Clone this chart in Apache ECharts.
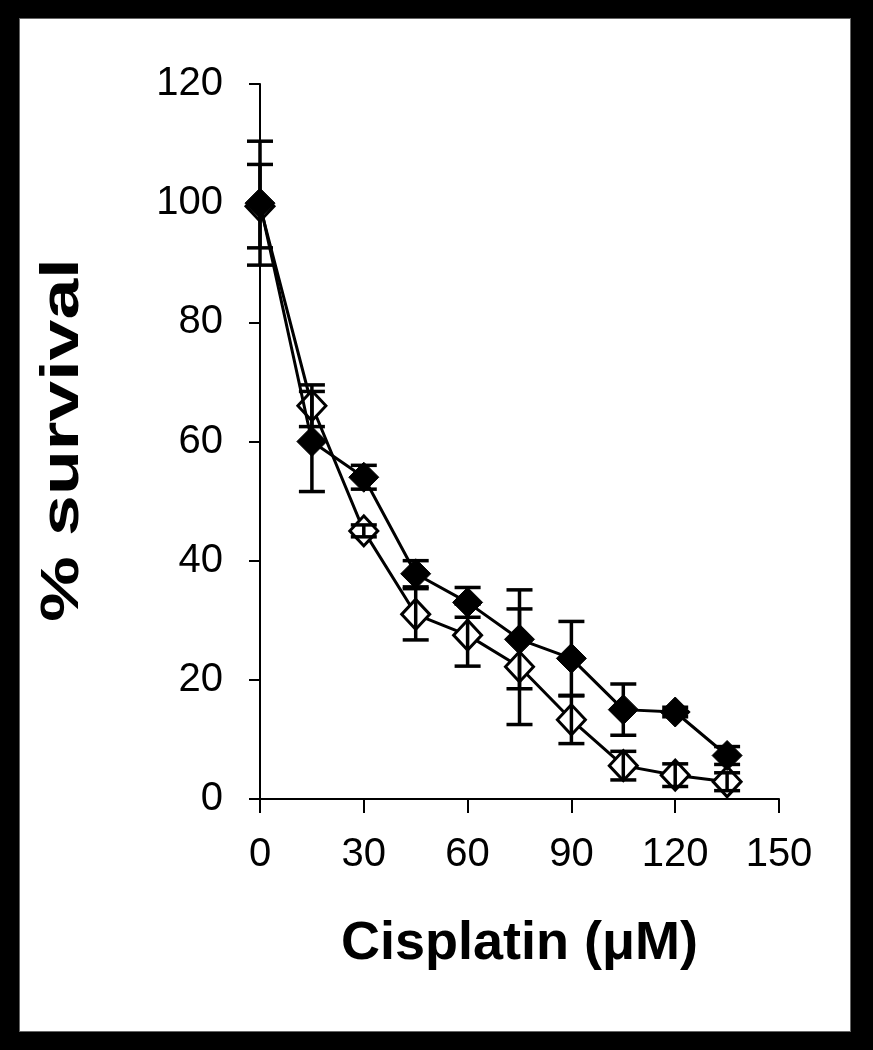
<!DOCTYPE html>
<html>
<head>
<meta charset="utf-8">
<script src="https://cdn.jsdelivr.net/npm/echarts@6/dist/echarts.min.js"></script>
<style>
html,body{margin:0;padding:0;background:#000;}
#paper{position:absolute;left:19px;top:18px;width:830px;height:1012px;background:#fff;border:1px solid #666;}
#main{position:absolute;left:0;top:0;width:873px;height:1050px;}
</style>
</head>
<body>
<div id="paper"></div>
<div id="main"></div>
<script>
// cisplatin dose (uM)
var dose = [0, 15, 30, 45, 60, 75, 90, 105, 120, 135];
// filled diamonds
var filledMean = [100, 60, 54, 37.8, 33, 26.8, 23.6, 15, 14.6, 7.3];
var filledErr  = [10.4, 8.4, 2, 2.2, 2.5, 8.3, 6.2, 4.3, 0.8, 1.5];
// open diamonds
var openMean = [99.5, 66, 45, 31, 27.5, 22.2, 13.3, 5.6, 4, 2.9];
var openErr  = [7, 3.5, 1, 4.3, 5.2, 9.7, 4, 2.4, 1.9, 1.5];

var xTicks = [0, 30, 60, 90, 120, 150];
var yTicks = [0, 20, 40, 60, 80, 100, 120];

function pairs(m){
    var out = [];
    for (var i = 0; i < dose.length; i++) out.push([dose[i], m[i]]);
    return out;
}
function bars(m, e){
    var out = [];
    for (var i = 0; i < dose.length; i++) out.push([dose[i], m[i] - e[i], m[i] + e[i]]);
    return out;
}

function renderBar(params, api){
    var x = api.value(0);
    var lo = api.coord([x, api.value(1)]);
    var hi = api.coord([x, api.value(2)]);
    var hw = 13;
    var st = {stroke: '#000', lineWidth: 3.5};
    return {
        type: 'group',
        children: [
            {type: 'line', shape: {x1: hi[0], y1: hi[1], x2: lo[0], y2: lo[1]}, style: st},
            {type: 'line', shape: {x1: hi[0] - hw, y1: hi[1], x2: hi[0] + hw, y2: hi[1]}, style: st},
            {type: 'line', shape: {x1: lo[0] - hw, y1: lo[1], x2: lo[0] + hw, y2: lo[1]}, style: st}
        ]
    };
}

var myChart = echarts.init(document.getElementById('main'));
var option = {
    animation: false,
    grid: {left: 260, right: 94, top: 84, bottom: 251},
    // y title is stretched along its length in the original
    graphic: [{
        type: 'text',
        x: 63,
        y: 440,
        rotation: Math.PI / 2,
        scaleX: 1.36,
        style: {
            text: '% survival',
            font: 'bold 54px "Liberation Sans", Arial',
            fill: '#000',
            align: 'center',
            verticalAlign: 'middle'
        }
    }],
    xAxis: {
        type: 'value',
        min: xTicks[0],
        max: xTicks[xTicks.length - 1],
        interval: 30,
        name: 'Cisplatin (\u03bcM)',
        nameLocation: 'middle',
        nameGap: 118,
        nameTextStyle: {fontFamily: 'Liberation Sans, Arial', fontWeight: 'bold', fontSize: 54, color: '#000'},
        axisLine: {lineStyle: {color: '#000', width: 2}},
        axisTick: {length: 14, lineStyle: {color: '#000', width: 2}},
        axisLabel: {margin: 36, fontFamily: 'Liberation Sans, Arial', fontSize: 40, color: '#000'},
        splitLine: {show: false}
    },
    yAxis: {
        type: 'value',
        min: yTicks[0],
        max: yTicks[yTicks.length - 1],
        interval: 20,
        axisLine: {show: true, lineStyle: {color: '#000', width: 2}},
        axisTick: {show: true, length: 11, lineStyle: {color: '#000', width: 2}},
        axisLabel: {margin: 37, fontFamily: 'Liberation Sans, Arial', fontSize: 40, color: '#000'},
        splitLine: {show: false}
    },
    series: [
        {
            name: 'open',
            type: 'line',
            data: pairs(openMean),
            symbol: 'diamond',
            symbolSize: [28, 30],
            lineStyle: {color: '#000', width: 3},
            itemStyle: {color: '#fff', borderColor: '#000', borderWidth: 3},
            z: 2
        },
        {
            name: 'filled',
            type: 'line',
            data: pairs(filledMean),
            symbol: 'diamond',
            symbolSize: [30, 30],
            lineStyle: {color: '#000', width: 3},
            itemStyle: {color: '#000', borderColor: '#000', borderWidth: 1},
            z: 3
        },
        {
            type: 'custom',
            renderItem: renderBar,
            data: bars(openMean, openErr),
            encode: {x: 0, y: [1, 2]},
            z: 4
        },
        {
            type: 'custom',
            renderItem: renderBar,
            data: bars(filledMean, filledErr),
            encode: {x: 0, y: [1, 2]},
            z: 4
        }
    ]
};
myChart.setOption(option);
</script>
</body>
</html>
